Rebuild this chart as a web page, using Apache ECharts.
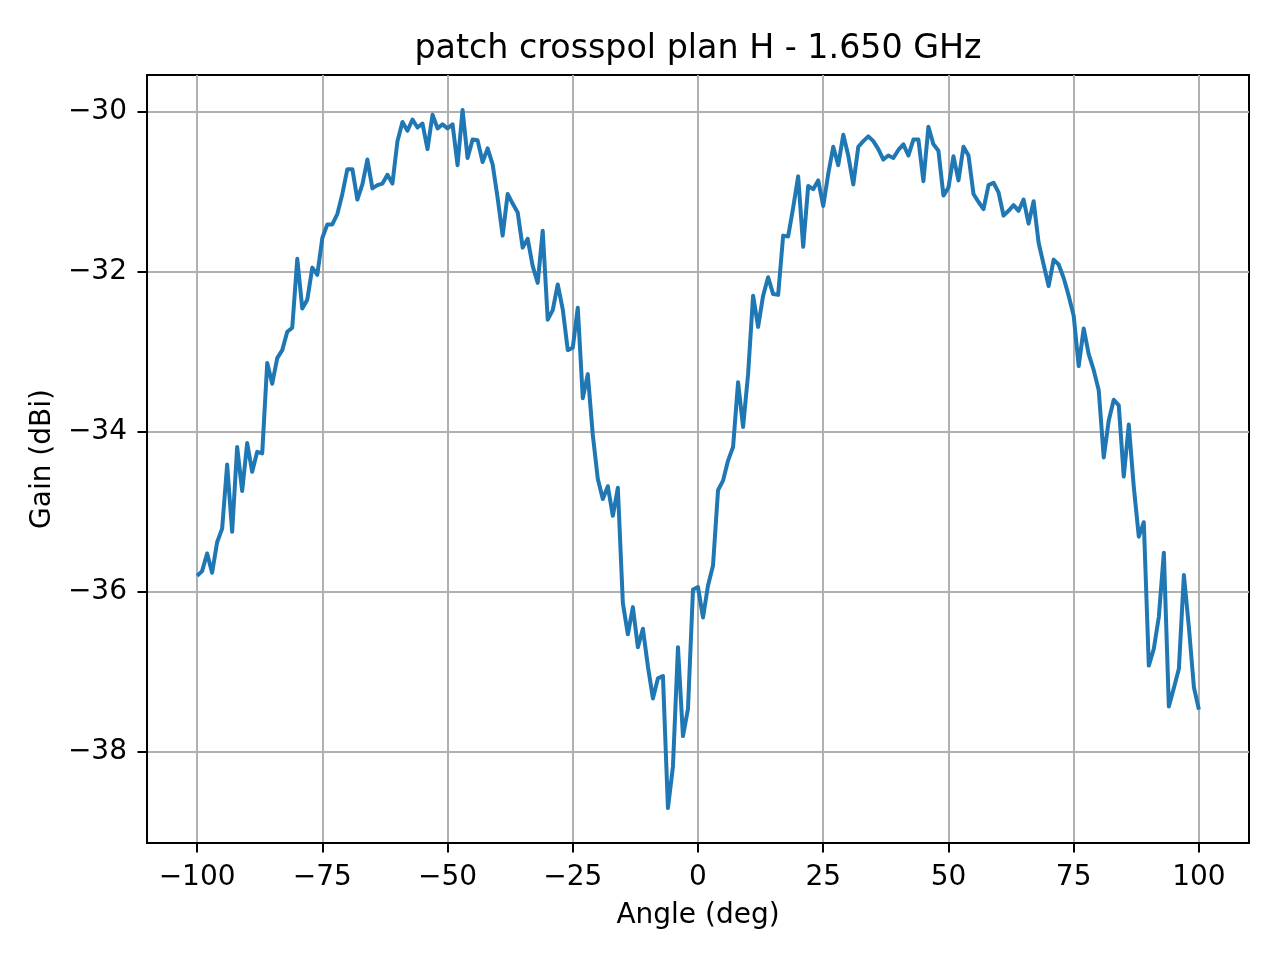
<!DOCTYPE html>
<html>
<head>
<meta charset="utf-8">
<title>patch crosspol plan H - 1.650 GHz</title>
<script src="https://cdn.jsdelivr.net/npm/echarts@6/dist/echarts.min.js"></script>
<style>
  html, body { margin: 0; padding: 0; background: #fff; }
  #chart { width: 1280px; height: 960px; }
</style>
</head>
<body>
<div id="chart"></div>
<script>
// Measured cross-polar gain, H plane, 1.650 GHz (one sample per degree)
const TITLE = 'patch crosspol plan H - 1.650 GHz';
const X_NAME = 'Angle (deg)';
const Y_NAME = 'Gain (dBi)';

const angles = [
  -100,-99,-98,-97,-96,-95,-94,-93,-92,-91,-90,-89,-88,-87,-86,-85,-84,-83,-82,-81,
  -80,-79,-78,-77,-76,-75,-74,-73,-72,-71,-70,-69,-68,-67,-66,-65,-64,-63,-62,-61,
  -60,-59,-58,-57,-56,-55,-54,-53,-52,-51,-50,-49,-48,-47,-46,-45,-44,-43,-42,-41,
  -40,-39,-38,-37,-36,-35,-34,-33,-32,-31,-30,-29,-28,-27,-26,-25,-24,-23,-22,-21,
  -20,-19,-18,-17,-16,-15,-14,-13,-12,-11,-10,-9,-8,-7,-6,-5,-4,-3,-2,-1,
  0,1,2,3,4,5,6,7,8,9,10,11,12,13,14,15,16,17,18,19,
  20,21,22,23,24,25,26,27,28,29,30,31,32,33,34,35,36,37,38,39,
  40,41,42,43,44,45,46,47,48,49,50,51,52,53,54,55,56,57,58,59,
  60,61,62,63,64,65,66,67,68,69,70,71,72,73,74,75,76,77,78,79,
  80,81,82,83,84,85,86,87,88,89,90,91,92,93,94,95,96,97,98,99,
  100
];

const gain = [
  -35.80,-35.74,-35.52,-35.76,-35.38,-35.21,-34.41,-35.25,-34.19,-34.74,
  -34.14,-34.50,-34.25,-34.27,-33.14,-33.40,-33.08,-32.98,-32.75,-32.70,
  -31.84,-32.46,-32.35,-31.95,-32.04,-31.58,-31.41,-31.41,-31.28,-31.03,
  -30.72,-30.72,-31.10,-30.91,-30.60,-30.96,-30.92,-30.90,-30.79,-30.90,
  -30.37,-30.13,-30.24,-30.10,-30.20,-30.15,-30.47,-30.04,-30.21,-30.16,
  -30.21,-30.16,-30.67,-29.98,-30.58,-30.35,-30.36,-30.63,-30.46,-30.66,
  -31.08,-31.55,-31.03,-31.15,-31.26,-31.70,-31.59,-31.93,-32.14,-31.49,
  -32.60,-32.48,-32.16,-32.47,-32.98,-32.95,-32.45,-33.58,-33.28,-34.04,
  -34.59,-34.84,-34.68,-35.05,-34.70,-36.14,-36.53,-36.19,-36.69,-36.46,
  -36.93,-37.33,-37.08,-37.05,-38.70,-38.18,-36.69,-37.80,-37.46,-35.97,
  -35.94,-36.32,-35.92,-35.67,-34.73,-34.61,-34.36,-34.19,-33.38,-33.94,
  -33.28,-32.30,-32.69,-32.30,-32.07,-32.28,-32.29,-31.55,-31.56,-31.20,
  -30.81,-31.69,-30.93,-30.97,-30.86,-31.18,-30.78,-30.44,-30.67,-30.29,
  -30.55,-30.91,-30.44,-30.37,-30.31,-30.37,-30.47,-30.60,-30.55,-30.58,
  -30.48,-30.41,-30.55,-30.35,-30.35,-30.87,-30.19,-30.41,-30.49,-31.05,
  -30.95,-30.56,-30.86,-30.44,-30.55,-31.03,-31.13,-31.22,-30.92,-30.89,
  -31.01,-31.30,-31.24,-31.17,-31.24,-31.10,-31.40,-31.12,-31.64,-31.91,
  -32.18,-31.85,-31.91,-32.08,-32.30,-32.55,-33.18,-32.71,-33.03,-33.23,
  -33.48,-34.32,-33.86,-33.60,-33.67,-34.56,-33.91,-34.69,-35.31,-35.13,
  -36.92,-36.71,-36.31,-35.51,-37.43,-37.20,-36.96,-35.79,-36.44,-37.19,
  -37.47
];

const xTicks = [-100, -75, -50, -25, 0, 25, 50, 75, 100];
const yTicks = [-38, -36, -34, -32, -30];

// axis limits like matplotlib autoscale (5% margins)
const X_MIN = -110, X_MAX = 110;
const Y_MIN = -39.136, Y_MAX = -29.544;

const FONT = 'DejaVu Sans';
const fmt = v => (v < 0 ? '\u2212' + Math.abs(v) : String(v));

const chart = echarts.init(document.getElementById('chart'), null, { renderer: 'canvas' });

chart.setOption({
  animation: false,
  backgroundColor: '#ffffff',
  textStyle: { fontFamily: FONT },
  title: {
    text: TITLE,
    left: 693, top: 28, textAlign: 'center',
    textStyle: { fontFamily: FONT, fontSize: 33.3, fontWeight: 'normal', color: '#000' }
  },
  grid: {
    left: 147, top: 75, width: 1102, height: 768,
    show: true, borderColor: '#000', borderWidth: 2, backgroundColor: 'transparent'
  },
  xAxis: {
    type: 'value', min: X_MIN, max: X_MAX,
    name: X_NAME, nameLocation: 'middle', nameGap: 59,
    nameTextStyle: { fontFamily: FONT, fontSize: 28, color: '#000' },
    axisLine: { show: true, onZero: false, lineStyle: { color: '#000', width: 2 } },
    axisTick: { show: true, inside: false, length: 9.5, customValues: xTicks, lineStyle: { color: '#000', width: 2 } },
    axisLabel: { margin: 21, customValues: xTicks, formatter: fmt, fontFamily: FONT, fontSize: 28, color: '#000' },
    splitLine: { show: true, lineStyle: { color: '#b0b0b0', width: 2 } }
  },
  yAxis: {
    type: 'value', min: Y_MIN, max: Y_MAX,
    name: Y_NAME, nameLocation: 'middle', nameGap: 90,
    nameTextStyle: { fontFamily: FONT, fontSize: 28, color: '#000' },
    axisLine: { show: true, onZero: false, lineStyle: { color: '#000', width: 2 } },
    axisTick: { show: true, inside: false, length: 9.5, customValues: yTicks, lineStyle: { color: '#000', width: 2 } },
    axisLabel: { margin: 20, customValues: yTicks, formatter: fmt, fontFamily: FONT, fontSize: 28, color: '#000' },
    splitLine: { show: true, lineStyle: { color: '#b0b0b0', width: 2 } }
  },
  series: [{
    type: 'line',
    data: angles.map((a, i) => [a, gain[i]]),
    symbol: 'none',
    lineStyle: { color: '#1f77b4', width: 4, join: 'round' },
    z: 3
  }]
});
</script>
</body>
</html>
